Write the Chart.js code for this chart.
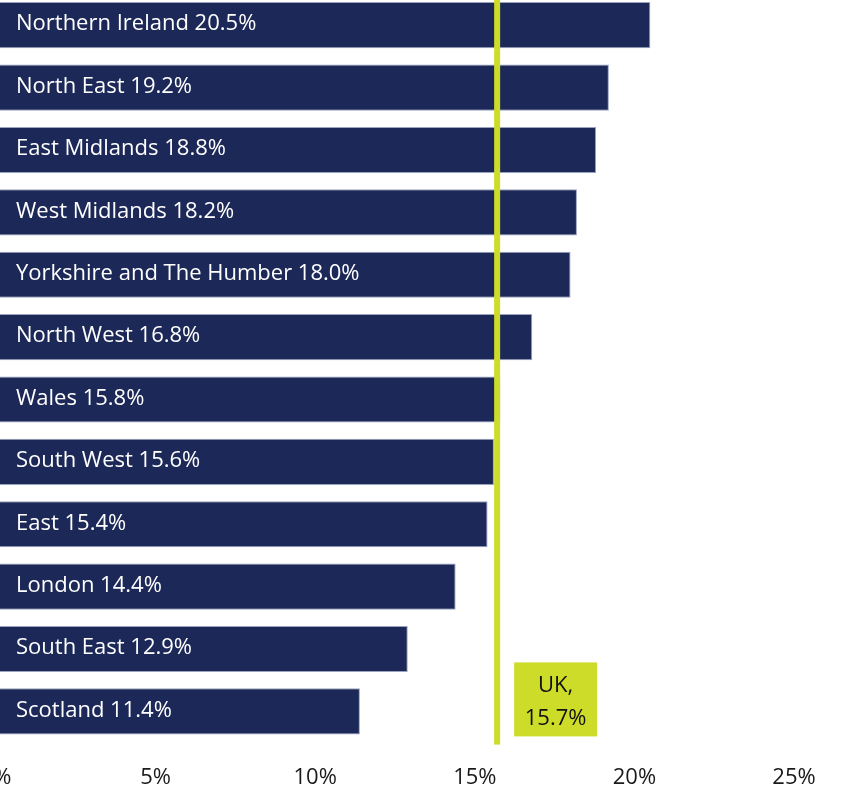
<!DOCTYPE html>
<html lang="en">
<head>
    <meta charset="UTF-8">
    <title>Regional rates vs UK</title>
    <script src="https://cdn.jsdelivr.net/npm/chart.js"></script>
    <style>
        html, body { margin: 0; padding: 0; background: #fff; overflow: hidden; width: 866px; height: 789px; }
        #wrap { position: absolute; left: -40px; top: -20px; width: 910px; height: 827px; }
    </style>
</head>
<body>
    <div id="wrap"><canvas id="chart"></canvas></div>

    <script>
        // data
        const regions = ["Northern Ireland", "North East", "East Midlands", "West Midlands",
            "Yorkshire and The Humber", "North West", "Wales", "South West", "East",
            "London", "South East", "Scotland"];
        const rates = [20.5, 19.2, 18.8, 18.2, 18.0, 16.8, 15.8, 15.6, 15.4, 14.4, 12.9, 11.4];
        const ukRate = 15.7;
        const ukLabel = ["UK,", ukRate.toFixed(1) + "%"];
        const xTicks = [0, 5, 10, 15, 20, 25];

        const NAVY = "#1c2857";
        const LIME = "#cddc29";
        const FONT = "'Open Sans', sans-serif";

        // white names + values inside the bars, UK line and its tag
        const overlay = {
            id: "overlay",
            afterDatasetsDraw(chart) {
                const ctx = chart.ctx;
                const x = chart.scales.x;
                const y = chart.scales.y;
                const meta = chart.getDatasetMeta(0);
                ctx.save();
                ctx.font = "22px " + FONT;
                ctx.fillStyle = "#ffffff";
                ctx.textBaseline = "middle";
                ctx.textAlign = "left";
                meta.data.forEach((bar, i) => {
                    ctx.fillText(regions[i] + " " + rates[i].toFixed(1) + "%", x.getPixelForValue(0) + 20, bar.y - 1);
                });

                // UK average line
                const ux = x.getPixelForValue(ukRate);
                ctx.fillStyle = LIME;
                ctx.fillRect(ux - 3, chart.chartArea.top, 6, chart.chartArea.bottom - chart.chartArea.top + 2);

                // UK tag next to the last bar
                const cy = y.getPixelForValue(regions.length - 1) - 12;
                ctx.fillRect(ux + 17, cy - 37, 83, 74);
                ctx.fillStyle = "#111111";
                ctx.textAlign = "center";
                ctx.fillText(ukLabel[0], ux + 58.5, cy - 14);
                ctx.fillText(ukLabel[1], ux + 58.5, cy + 19);
                ctx.restore();
            }
        };

        new Chart(document.getElementById("chart"), {
            type: "bar",
            data: {
                labels: regions,
                datasets: [{
                    data: rates,
                    backgroundColor: NAVY,
                    borderColor: "#9aa3c2",
                    borderWidth: 1,
                    borderSkipped: "left",
                    barPercentage: 0.74,
                    categoryPercentage: 1
                }]
            },
            options: {
                indexAxis: "y",
                responsive: true,
                maintainAspectRatio: false,
                animation: false,
                layout: { padding: { left: 36, right: 76, top: 14, bottom: 3 } },
                plugins: { legend: { display: false }, tooltip: { enabled: false } },
                scales: {
                    x: {
                        min: 0,
                        max: 25,
                        afterBuildTicks(scale) { scale.ticks = xTicks.map(v => ({ value: v })); },
                        grid: { display: false },
                        border: { display: false },
                        ticks: {
                            padding: 13.5,
                            color: "#1a1a1a",
                            font: { family: FONT, size: 22 },
                            callback: v => v + "%"
                        }
                    },
                    y: { display: false }
                }
            },
            plugins: [overlay]
        });
    </script>
</body>
</html>
